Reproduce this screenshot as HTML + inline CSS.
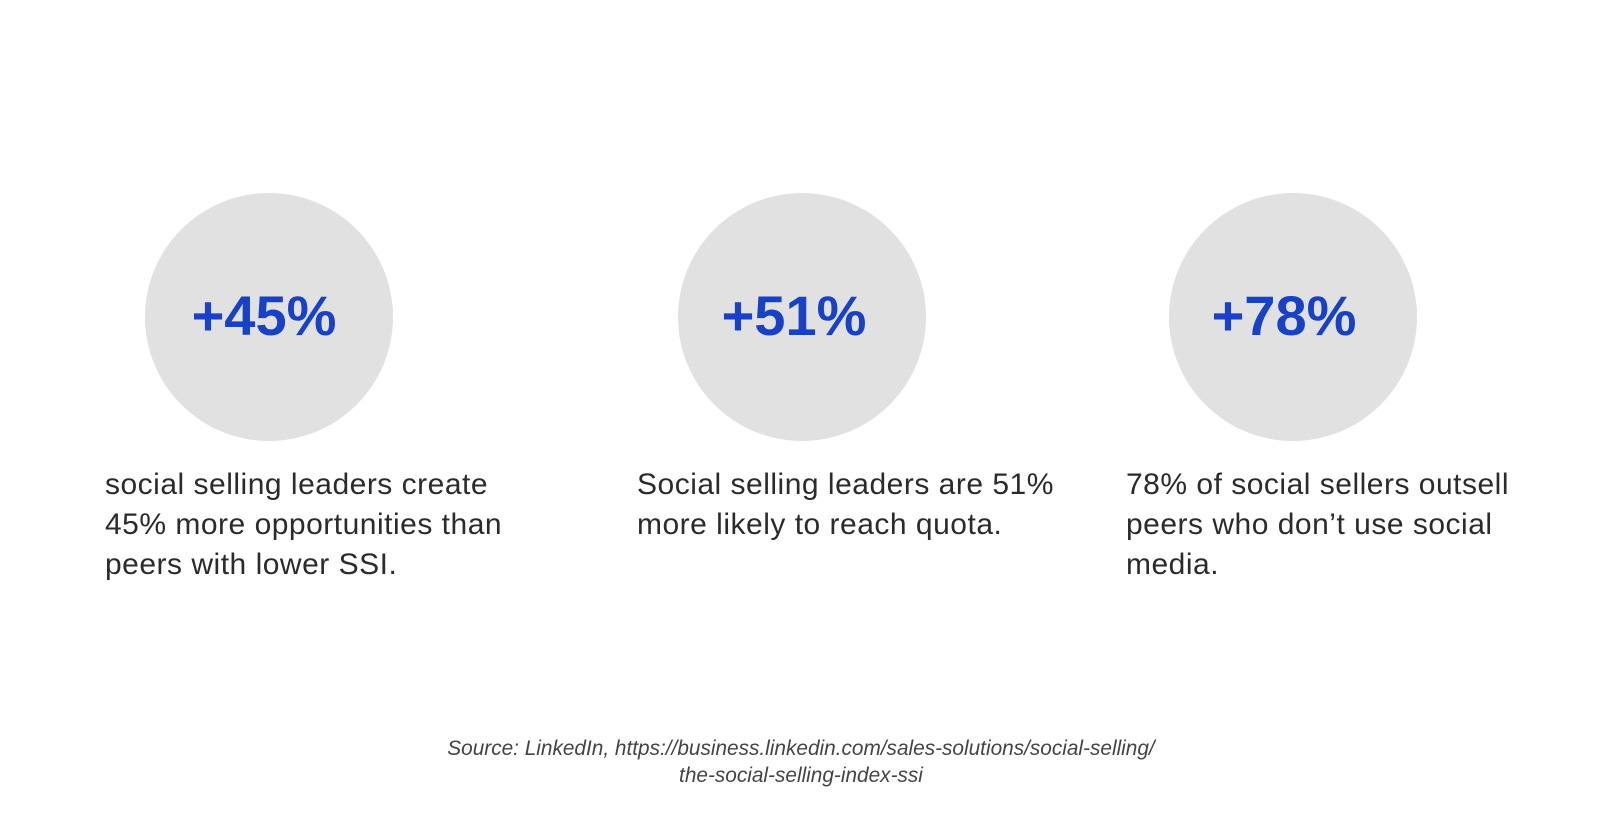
<!DOCTYPE html>
<html><head><style>
body{margin:0;width:1600px;height:840px;background:#fff;position:relative;font-family:"Liberation Sans",sans-serif;overflow:hidden}
.c{position:absolute;width:248px;height:248px;border-radius:50%;background:#e1e1e1;top:193px}
.n{position:absolute;top:286px;width:300px;text-align:center;font-weight:bold;font-size:56px;color:#1741c6;line-height:60px}
.t{position:absolute;top:465px;font-size:30px;letter-spacing:0.5px;line-height:40px;color:#2b2b2b;white-space:nowrap}
.s{position:absolute;left:601px;width:400px;top:735px;text-align:center;font-style:italic;font-size:20.8px;line-height:27.3px;color:#444;white-space:nowrap}
.s div{margin-left:-200px;width:800px}
</style></head><body>
<div class="c" style="left:145px"></div>
<div class="c" style="left:678px"></div>
<div class="c" style="left:1169px"></div>
<div class="n" style="left:114px">+45%</div>
<div class="n" style="left:644px">+51%</div>
<div class="n" style="left:1134px">+78%</div>
<div class="t" style="left:105px">social selling leaders create<br>45% more opportunities than<br>peers with lower SSI.</div>
<div class="t" style="left:637px">Social selling leaders are 51%<br>more likely to reach quota.</div>
<div class="t" style="left:1126px">78% of social sellers outsell<br>peers who don’t use social<br>media.</div>
<div class="s"><div>Source: LinkedIn, https://business.linkedin.com/sales-solutions/social-selling/<br>the-social-selling-index-ssi</div></div>
</body></html>
